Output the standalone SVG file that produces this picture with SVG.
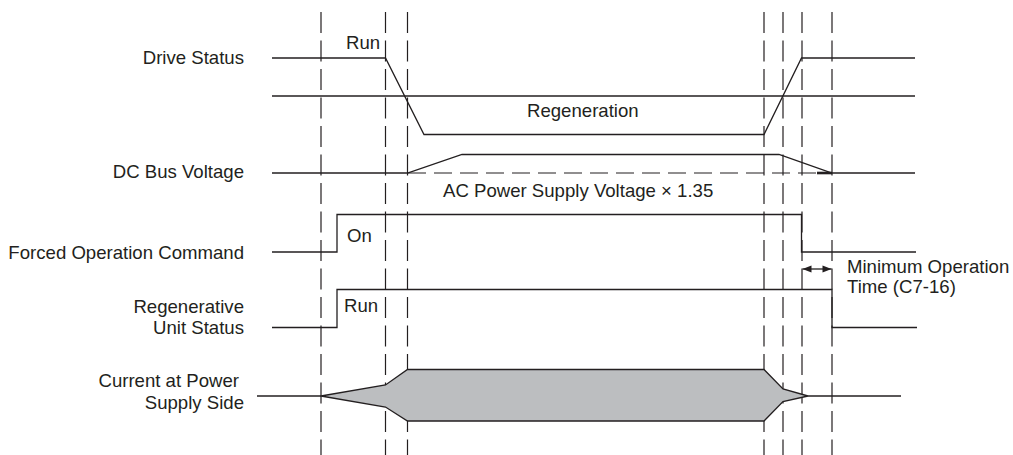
<svg xmlns="http://www.w3.org/2000/svg" width="1013" height="455" viewBox="0 0 1013 455">
<defs>
<style>
.ln{fill:none;stroke:#231f20;stroke-width:1.3}
.dv{fill:none;stroke:#231f20;stroke-width:1.2;stroke-dasharray:21 7.5}
.dh{fill:none;stroke:#231f20;stroke-width:1.2;stroke-dasharray:18 8}
.t{font-family:"Liberation Sans",Arial,sans-serif;font-size:18.6px;fill:#231f20}
.e{text-anchor:end}
</style>
<marker id="ah" viewBox="0 0 10 10" refX="10" refY="5" markerWidth="10" markerHeight="9" markerUnits="userSpaceOnUse" orient="auto-start-reverse">
<path d="M0,1 L10,5 L0,9 Z" fill="#231f20"/>
</marker>
</defs>
<rect width="1013" height="455" fill="#ffffff"/>
<g id="guides">
<line class="dv" x1="321" y1="12" x2="321" y2="455"/>
<line class="dv" x1="385.5" y1="12" x2="385.5" y2="455"/>
<line class="dv" x1="407.5" y1="12" x2="407.5" y2="455"/>
<line class="dv" x1="764" y1="12" x2="764" y2="455"/>
<line class="dv" x1="783" y1="12" x2="783" y2="455"/>
<line class="dv" x1="802" y1="12" x2="802" y2="455"/>
<line class="dv" x1="832" y1="12" x2="832" y2="455"/>
</g>
<g id="drive-status">
<text class="t e" x="244" y="64">Drive Status</text>
<polyline class="ln" points="272,58 385.5,58 424,134.5 764,134.5 801.5,58 915,58"/>
<line class="ln" x1="272" y1="96" x2="915" y2="96"/>
<text class="t" x="346" y="49">Run</text>
<text class="t" x="527" y="117">Regeneration</text>
</g>
<g id="dc-bus-voltage">
<text class="t e" x="244" y="178">DC Bus Voltage</text>
<polyline class="ln" points="272,173 407.5,173 462,154.5 779,154.5 832,173 915,173"/>
<line class="dh" x1="408" y1="173" x2="832" y2="173"/>
<line class="ln" x1="817" y1="173" x2="832" y2="173" style="stroke-width:2.6"/>
<text class="t" x="443" y="197">AC Power Supply Voltage × 1.35</text>
</g>
<g id="forced-operation-command">
<text class="t e" x="244" y="259">Forced Operation Command</text>
<polyline class="ln" points="272,252 337,252 337,214.5 801.5,214.5 801.5,252 916,252"/>
<text class="t" x="347" y="242">On</text>
</g>
<g id="regenerative-unit-status">
<text class="t e" x="244" y="313">Regenerative</text>
<text class="t e" x="244" y="334">Unit Status</text>
<polyline class="ln" points="272,327.5 337,327.5 337,289.5 832,289.5 832,327.5 917,327.5"/>
<text class="t" x="344" y="312">Run</text>
</g>
<g id="current">
<text class="t e" x="239" y="387">Current at Power</text>
<text class="t e" x="244" y="409">Supply Side</text>
<line class="ln" x1="257" y1="396" x2="321" y2="396"/>
<polygon class="ln" style="fill:#bcbec0" points="321,396 385.5,385 407.5,369.5 764,369.5 783,389 808,396 783,401.5 764,421 407.5,421 385.5,407"/>
<line class="ln" x1="808" y1="396" x2="901" y2="396"/>
</g>
<g id="connectors">
<line class="ln" x1="802.5" y1="269" x2="831.5" y2="269" marker-start="url(#ah)" marker-end="url(#ah)"/>
</g>
<g id="min-op-label">
<text class="t" x="847" y="273">Minimum Operation</text>
<text class="t" x="847" y="293">Time (C7-16)</text>
</g>
</svg>
